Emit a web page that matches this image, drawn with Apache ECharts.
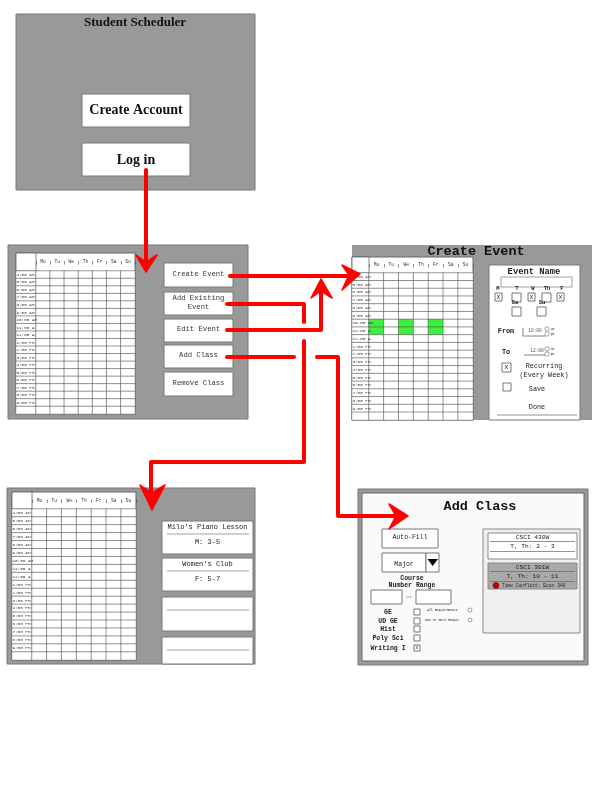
<!DOCTYPE html>
<html>
<head>
<meta charset="utf-8">
<script src="https://cdn.jsdelivr.net/npm/echarts@6/dist/echarts.min.js"></script>
<style>
html,body{margin:0;padding:0;background:#fff}
#main{width:612px;height:792px}
</style>
</head>
<body>
<div id="main"></div>
<script>
// schedule data
var days = ['Mo', 'Tu', 'We', 'Th', 'Fr', 'Sa', 'Su'];
var hours = ['4:00 AM', '5:00 AM', '6:00 AM', '7:00 AM', '8:00 AM', '9:00 AM', '10:00 AM', '11:00 A', '12:00 A',
  '1:00 PM', '2:00 PM', '3:00 PM', '4:00 PM', '5:00 PM', '6:00 PM', '7:00 PM', '8:00 PM', '9:00 PM'];
var newEventDays = ['Mo', 'We', 'Fr'];
var newEventHours = ['10:00 AM', '11:00 A'];

// screen texts
var menuButtons = ['Create Event', 'Add Existing\nEvent', 'Edit Event', 'Add Class', 'Remove Class'];
var savedNames = ["Milo's Piano Lesson", "Women's Club", '', ''];
var savedTimes = ['M: 3-5', 'F: 5-7', '', ''];
var weekLetters = ['M', 'T', 'W', 'Th', 'F', 'Sa', 'Su'];
var weekChecked = [true, false, true, false, true, false, false];
var reqLabels = ['GE', 'UD GE', 'Hist', 'Poly Sci', 'Writing I'];
var reqChecked = [false, false, false, false, true];
var classNames = ['CSCI 430W', 'CSCI 301W'];
var classTimes = ['T, Th: 2 - 3', 'T, Th: 10 - 11'];
var classConflicts = ['', 'Time Conflict: Econ 340'];

var MONO = '"Liberation Mono", "DejaVu Sans Mono", monospace';
var SERIF = '"Liberation Serif", "DejaVu Serif", serif';
var RED = '#ff0000';

var chart = echarts.init(document.getElementById('main'), null, {renderer: 'canvas'});

// ---- helpers for the wireframe boxes ----
function box(x, y, w, h, fill, stroke, lw, z) {
  return {type: 'rect', z: z == null ? 1 : z, silent: true,
    shape: {x: x, y: y, width: w, height: h},
    style: {fill: fill, stroke: stroke || '#777', lineWidth: lw == null ? 1 : lw}};
}
function label(x, y, s, size, o) {
  o = o || {};
  return {type: 'text', z: o.z || 3, silent: true,
    style: {text: s, x: x, y: y, fill: o.color || '#222', fontSize: size,
      fontFamily: o.family || MONO, fontWeight: o.weight || 'normal',
      lineHeight: o.lh || size * 1.15,
      align: o.align || 'center', verticalAlign: 'middle',
      textAlign: o.align || 'center', textVerticalAlign: 'middle'}};
}
function seg(x1, y1, x2, y2, color, lw, z) {
  return {type: 'line', z: z || 3, silent: true, shape: {x1: x1, y1: y1, x2: x2, y2: y2},
    style: {stroke: color || '#888', lineWidth: lw || 0.8}};
}
function circle(cx, cy, r, fill, stroke) {
  return {type: 'circle', z: 3, silent: true, shape: {cx: cx, cy: cy, r: r},
    style: {fill: fill || '#fff', stroke: stroke || '#666', lineWidth: 0.6}};
}
function checkbox(x, y, w, h, checked) {
  var out = [box(x, y, w, h, '#fff', '#555', 0.8, 3)];
  if (checked) out.push(label(x + w / 2, y + h / 2, 'x', h * 0.8, {z: 4}));
  return out;
}
function redLine(pts) {
  return {type: 'polyline', z: 20, silent: true, shape: {points: pts},
    style: {stroke: RED, lineWidth: 4, lineCap: 'round', lineJoin: 'round', fill: null}};
}
function redHead(pts) {
  return {type: 'polygon', z: 21, silent: true, shape: {points: pts},
    style: {fill: RED, stroke: RED, lineWidth: 1.5, lineJoin: 'round'}};
}

var g = [];

// ---- login screen ----
g.push(box(16, 14, 239, 176, '#999', '#777', 1, 0));
g.push(label(135, 23, 'Student Scheduler', 13, {family: SERIF, weight: 'bold', color: '#111'}));
g.push(box(82, 94, 108, 33, '#fff', '#777'));
g.push(label(136, 110, 'Create Account', 14, {family: SERIF, weight: 'bold', color: '#111'}));
g.push(box(82, 143, 108, 33, '#fff', '#777'));
g.push(label(136, 160, 'Log in', 14, {family: SERIF, weight: 'bold', color: '#111'}));

// ---- main schedule screen ----
g.push(box(8, 245, 240, 174, '#999', '#777', 1, 0));
var btnY = [263, 292, 319, 345, 372], btnH = [24, 23, 23, 23, 24];
menuButtons.forEach(function (b, i) {
  g.push(box(164, btnY[i], 69, btnH[i], '#fff', '#777'));
  g.push(label(198.5, btnY[i] + btnH[i] / 2 - 1, b, 7.2, {lh: 9, color: '#333'}));
});

// ---- create event screen ----
g.push(box(352, 245, 240, 175, '#999', null, 0, 0));
g.push(label(476, 251.5, 'Create Event', 13.5, {weight: 'bold', color: '#111'}));
g.push(box(489, 265, 91, 155, '#fff', '#777', 1, 2));
g.push(label(534, 272, 'Event Name', 8.8, {weight: 'bold'}));
g.push(box(501, 277, 71, 10, '#fff', '#888', 0.8, 3));
var letterX = [498, 517, 533, 547, 562, 515, 542];
var letterY = [289, 289, 289, 289, 289, 303, 303];
var cbX = [495, 512, 528, 542, 557, 512, 537];
var cbY = [293, 293, 293, 293, 293, 307, 307];
var cbW = [7, 9, 7, 9, 7, 9, 9];
var cbH = [8, 9, 8, 9, 8, 9, 9];
weekLetters.forEach(function (d, i) {
  g.push(label(letterX[i], letterY[i], d, 5.5, {weight: 'bold'}));
  g = g.concat(checkbox(cbX[i], cbY[i], cbW[i], cbH[i], weekChecked[i]));
});
g.push(label(506, 331, 'From', 6.8, {weight: 'bold'}));
g.push(seg(523, 328, 523, 336, '#666', 0.8));
g.push(seg(523, 336, 545, 336, '#666', 0.8));
g.push(label(535, 331, '10:00', 4.5, {color: '#555'}));
g.push(circle(547, 329, 2.2), circle(547, 334, 2.2));
g.push(label(552.5, 329, 'am', 3), label(552.5, 334, 'pm', 3));
g.push(label(506, 352, 'To', 6.8, {weight: 'bold'}));
g.push(seg(524, 355, 545, 355, '#666', 0.8));
g.push(label(537, 351, '12:00', 4.5, {color: '#555'}));
g.push(circle(547, 349, 2.2), circle(547, 354, 2.2));
g.push(label(552.5, 349, 'am', 3), label(552.5, 354, 'pm', 3));
g = g.concat(checkbox(502, 363, 9, 9, true));
g.push(label(544, 366, 'Recurring', 6.8), label(544, 375, '(Every Week)', 6.8));
g = g.concat(checkbox(503, 383, 8, 8, false));
g.push(label(537, 389, 'Save', 6.8));
g.push(label(537, 407, 'Done', 6.8));
g.push(seg(497, 415, 577, 415, '#777', 0.8));

// ---- saved events screen ----
g.push(box(7, 488, 248, 176, '#999', '#777', 1, 0));
var cardY = [521, 558, 597, 637], cardH = [33, 33, 34, 27];
savedNames.forEach(function (n, i) {
  g.push(box(162, cardY[i], 91, cardH[i], '#fff', '#777'));
  g.push(seg(167, cardY[i] + 13, 249, cardY[i] + 13, '#888', 0.8));
  if (n) g.push(label(207.5, cardY[i] + 6, n, 7, {color: '#222'}));
  if (savedTimes[i]) g.push(label(207.5, cardY[i] + 21.5, savedTimes[i], 7, {color: '#222'}));
});

// ---- add class screen ----
g.push(box(358, 489, 230, 176, '#999', '#777', 1, 0));
g.push(box(362, 493, 222, 168, '#fafafa', '#666', 1, 1));
g.push(label(480, 507, 'Add Class', 13.5, {weight: 'bold', color: '#111'}));
g.push(box(382, 529, 56, 19, '#fff', '#777'));
g.push(label(410, 537, 'Auto-Fill', 6.5));
g.push(box(382, 553, 44, 19, '#fff', '#777'), box(426, 553, 13, 19, '#fff', '#777'));
g.push(label(404, 564, 'Major', 6.5));
g.push({type: 'polygon', z: 3, silent: true, shape: {points: [[427.5, 559], [438, 559], [432.7, 566]]}, style: {fill: '#000'}});
g.push(label(412, 578, 'Course', 6.5, {weight: 'bold'}), label(412, 585, 'Number Range', 6.5, {weight: 'bold'}));
g.push(box(371, 590, 31, 14, '#fff', '#777'), box(416, 590, 35, 14, '#fff', '#777'));
g.push(seg(406, 597, 412, 597, '#999', 0.8));
var reqY = [612, 621, 629, 638, 648];
reqLabels.forEach(function (r, i) {
  g.push(label(388, reqY[i], r, 6.5, {weight: 'bold'}));
  g = g.concat(checkbox(414, reqY[i] - 3, 6, 6, reqChecked[i]));
});
g.push(label(427, 610, 'All Requirements', 3.2, {align: 'left'}), circle(470, 610, 2));
g.push(label(425, 620, 'One or more Requir', 3.2, {align: 'left'}), circle(470, 620, 2));
g.push(box(483, 529, 97, 104, '#f0f0f0', '#888'));
var classFill = ['#fff', '#a9a9a9'], classTop = [533, 563];
classNames.forEach(function (c, i) {
  var y = classTop[i];
  g.push(box(488, y, 89, 26, classFill[i], '#888'));
  g.push(label(532.5, y + 4.5, c, 6.2));
  g.push(seg(490, y + 8.5, 575, y + 8.5, '#666', 0.7));
  g.push(label(532.5, y + 13.5, classTimes[i], 6.2));
  g.push(seg(490, y + 18.5, 575, y + 18.5, '#666', 0.7));
  if (classConflicts[i]) {
    g.push(circle(496, y + 22.5, 3, '#c00000', '#800'));
    g.push(label(502, y + 22.5, classConflicts[i], 4.6, {align: 'left'}));
  }
});

// ---- schedule tables (heatmaps on category axes) ----
var tables = [
  {x: 16, y: 253, w: 119, h: 161, timeW: 20, headH: 18, busy: false},
  {x: 352, y: 257, w: 121, h: 163, timeW: 17, headH: 16, busy: true},
  {x: 12, y: 492, w: 124, h: 168, timeW: 20, headH: 17, busy: false}
];
var rows = hours.concat(['']);
var grids = [], xAxes = [], yAxes = [], series = [];
tables.forEach(function (t, k) {
  g.push(box(t.x, t.y, t.w, t.h, '#fff', '#666', 1, 1));
  g.push(box(t.x, t.y, t.timeW, t.headH, '#fff', '#666', 0.8, 1));
  var bodyTop = t.y + t.headH, bodyH = t.h - t.headH;
  grids.push({left: t.x, top: bodyTop, width: t.timeW, height: bodyH});
  grids.push({left: t.x + t.timeW, top: bodyTop, width: t.w - t.timeW, height: bodyH});
  xAxes.push({gridIndex: 2 * k, type: 'category', data: [''], show: false});
  yAxes.push({gridIndex: 2 * k, type: 'category', data: rows, inverse: true, show: false});
  xAxes.push({gridIndex: 2 * k + 1, type: 'category', data: days, position: 'top', z: 10,
    offset: t.headH / 2 - 2.5,
    axisLine: {show: false},
    axisTick: {show: true, length: 3.5, lineStyle: {color: '#444', width: 0.6}},
    axisLabel: {fontSize: 4.6, fontFamily: MONO, color: '#333', margin: 0, interval: 0},
    splitLine: {show: false}});
  yAxes.push({gridIndex: 2 * k + 1, type: 'category', data: rows, inverse: true, show: false});

  var timeCells = rows.map(function (r, j) { return [0, j, 0]; });
  series.push({type: 'heatmap', xAxisIndex: 2 * k, yAxisIndex: 2 * k, silent: true,
    data: timeCells,
    itemStyle: {color: '#fff', borderColor: '#555', borderWidth: 0.6},
    label: {show: true, position: 'insideLeft', distance: 1, fontSize: 4.3, fontFamily: MONO, color: '#333',
      formatter: function (p) { return rows[p.data[1]]; }},
    emphasis: {disabled: true}});

  var cells = [];
  days.forEach(function (d, i) {
    rows.forEach(function (r, j) {
      var on = t.busy && newEventDays.indexOf(d) >= 0 && newEventHours.indexOf(r) >= 0;
      cells.push(on ? {value: [i, j, 1], itemStyle: {color: '#3ef03e'}} : [i, j, 0]);
    });
  });
  series.push({type: 'heatmap', xAxisIndex: 2 * k + 1, yAxisIndex: 2 * k + 1, silent: true,
    data: cells,
    itemStyle: {color: '#fff', borderColor: '#555', borderWidth: 0.6},
    emphasis: {disabled: true}});
});

// ---- red flow arrows ----
g.push(redLine([[146, 170], [146, 260]]));
g.push(redHead([[146, 272], [136, 255], [146, 262], [157, 255]]));
g.push(redLine([[230, 276], [347, 276]]));
g.push(redHead([[360, 274], [342, 265], [349, 275], [342, 290]]));
g.push(redLine([[227, 304], [304, 304], [304, 322]]));
g.push(redLine([[227, 330], [321, 330], [321, 292]]));
g.push(redHead([[321, 279], [311, 298], [321, 291], [332, 298]]));
g.push(redLine([[227, 357], [294, 357]]));
g.push(redLine([[304, 341], [304, 462], [151, 462], [151, 492]]));
g.push(redHead([[152, 510], [140, 485], [152, 493], [165, 485]]));
g.push(redLine([[317, 357], [338, 357], [338, 516], [396, 516]]));
g.push(redHead([[408, 516], [389, 504], [396, 516], [389, 529]]));

chart.setOption({
  animation: false,
  backgroundColor: '#fff',
  grid: grids,
  xAxis: xAxes,
  yAxis: yAxes,
  series: series,
  graphic: {elements: g}
});
</script>
</body>
</html>
